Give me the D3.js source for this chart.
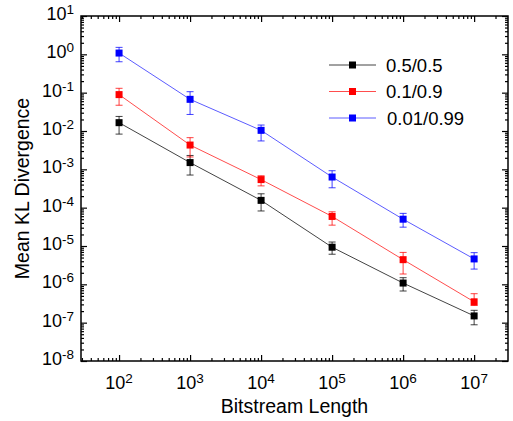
<!DOCTYPE html>
<html>
<head>
<meta charset="utf-8">
<script src="https://cdn.jsdelivr.net/npm/d3@7"></script>
<style>
  body { margin: 0; background: #fff; }
  svg text { font-family: Arial, "Liberation Sans", sans-serif; fill: #000; }
</style>
</head>
<body>
<div id="chart"></div>
<script>
// bitstream lengths (x values)
const lengths = [1e2, 1e3, 1e4, 1e5, 1e6, 1e7];

const seriesNames = ['0.5/0.5', '0.1/0.9', '0.01/0.99'];

// mean KL divergence, lower and upper error bounds
const meanA = [0.0165, 0.0015, 1.55e-4, 9.3e-6, 1.08e-6, 1.5e-7];
const lowA  = [0.0083, 7.1e-4, 8.2e-5, 6.1e-6, 6.7e-7, 8.8e-8];
const highA = [0.024, 0.0023, 2.3e-4, 1.27e-5, 1.49e-6, 2.1e-7];

const meanB = [0.089, 0.0043, 5.4e-4, 5.9e-5, 4.4e-6, 3.5e-7];
const lowB  = [0.047, 0.0021, 3.7e-4, 3.5e-5, 1.86e-6, 2.8e-7];
const highB = [0.13, 0.0067, 6.8e-4, 7.8e-5, 6.8e-6, 5.7e-7];

const meanC = [1.08, 0.067, 0.0104, 6.3e-4, 5.0e-5, 4.6e-6];
const lowC  = [0.64, 0.027, 0.0055, 3.3e-4, 3.1e-5, 2.5e-6];
const highC = [1.52, 0.106, 0.0143, 9.2e-4, 7.1e-5, 6.7e-6];

const xMajorExp = [2, 3, 4, 5, 6, 7];
const yMajorExp = [-8, -7, -6, -5, -4, -3, -2, -1, 0, 1];

const markColors = ['#000000', '#ff0000', '#0000ff'];
const lineColors = ['#444444', '#ff4d4d', '#5c5cff'];

const series = seriesNames.map((name, i) => ({
  name: name,
  mark: markColors[i],
  line: lineColors[i],
  values: lengths.map((x, j) => ({
    x: x,
    y: [meanA, meanB, meanC][i][j],
    lo: [lowA, lowB, lowC][i][j],
    hi: [highA, highB, highC][i][j]
  }))
}));

const width = 513, height = 421;
const margin = {top: 16, right: 5, bottom: 60, left: 81};

const svg = d3.select('#chart').append('svg')
    .attr('width', width)
    .attr('height', height);

const x = d3.scaleLog()
    .domain([Math.pow(10, 1.464), Math.pow(10, 7.477)])
    .range([margin.left, width - margin.right]);

const y = d3.scaleLog()
    .domain([1e-8, 10])
    .range([height - margin.bottom, margin.top]);

// minor ticks at 2..9 x 10^n inside the domain
function minorTicks(scale) {
  const [lo, hi] = scale.domain();
  const out = [];
  for (let e = Math.floor(Math.log10(lo)); e <= Math.ceil(Math.log10(hi)); e++) {
    for (let m = 2; m <= 9; m++) {
      const v = m * Math.pow(10, e);
      if (v > lo && v < hi) out.push(v);
    }
  }
  return out;
}

const xMajors = xMajorExp.map(e => Math.pow(10, e));
const yMajors = yMajorExp.map(e => Math.pow(10, e));
const xMinors = minorTicks(x);
const yMinors = minorTicks(y);

const bottom = height - margin.bottom;
const right = width - margin.right;

function styleAxis(g) {
  g.select('.domain').remove();
  g.selectAll('.tick line').attr('stroke', '#000').attr('stroke-width', 1.2);
}

// ticks (inward) on all four sides
[[xMajors, 6], [xMinors, 3]].forEach(([vals, len]) => {
  svg.append('g').attr('transform', `translate(0,${bottom})`)
      .call(d3.axisBottom(x).tickValues(vals).tickSize(-len).tickFormat(''))
      .call(styleAxis);
  svg.append('g').attr('transform', `translate(0,${margin.top})`)
      .call(d3.axisTop(x).tickValues(vals).tickSize(-len).tickFormat(''))
      .call(styleAxis);
});
[[yMajors, 6], [yMinors, 3]].forEach(([vals, len]) => {
  svg.append('g').attr('transform', `translate(${margin.left},0)`)
      .call(d3.axisLeft(y).tickValues(vals).tickSize(-len).tickFormat(''))
      .call(styleAxis);
  svg.append('g').attr('transform', `translate(${right},0)`)
      .call(d3.axisRight(y).tickValues(vals).tickSize(-len).tickFormat(''))
      .call(styleAxis);
});

// frame
svg.append('rect')
    .attr('x', margin.left)
    .attr('y', margin.top)
    .attr('width', right - margin.left)
    .attr('height', bottom - margin.top)
    .attr('fill', 'none')
    .attr('stroke', '#000')
    .attr('stroke-width', 1.5);

// tick labels as 10 with superscript
function powerLabel(sel, exp) {
  sel.append('tspan').text('10');
  sel.append('tspan')
      .attr('dy', -6)
      .style('font-size', '13.5px')
      .text(exp);
}

xMajorExp.forEach(e => {
  svg.append('text')
      .attr('x', x(Math.pow(10, e)))
      .attr('y', bottom + 28)
      .attr('text-anchor', 'middle')
      .style('font-size', '18px')
      .call(powerLabel, e);
});

yMajorExp.forEach(e => {
  svg.append('text')
      .attr('x', margin.left - 7)
      .attr('y', y(Math.pow(10, e)) + 4)
      .attr('text-anchor', 'end')
      .style('font-size', '18px')
      .call(powerLabel, e);
});

// axis titles
svg.append('text')
    .attr('x', (margin.left + right) / 2)
    .attr('y', 413)
    .attr('text-anchor', 'middle')
    .style('font-size', '19.5px')
    .text('Bitstream Length');

svg.append('text')
    .attr('transform', `translate(29,${(margin.top + bottom) / 2}) rotate(-90)`)
    .attr('text-anchor', 'middle')
    .style('font-size', '19.5px')
    .text('Mean KL Divergence');

// lines, error bars, markers
const line = d3.line().x(d => x(d.x)).y(d => y(d.y));
const markSize = 7, capW = 7;

series.forEach(s => {
  svg.append('path')
      .datum(s.values)
      .attr('d', line)
      .attr('fill', 'none')
      .attr('stroke', s.line)
      .attr('stroke-width', 1);

  const g = svg.append('g');
  const bars = g.selectAll('.err')
      .data(s.values)
    .join('g')
      .attr('class', 'err')
      .attr('stroke', s.mark)
      .attr('stroke-opacity', 0.75)
      .attr('stroke-width', 1);
  bars.append('line')
      .attr('x1', d => x(d.x)).attr('x2', d => x(d.x))
      .attr('y1', d => y(d.lo)).attr('y2', d => y(d.hi));
  bars.append('line')
      .attr('x1', d => x(d.x) - capW / 2).attr('x2', d => x(d.x) + capW / 2)
      .attr('y1', d => y(d.lo)).attr('y2', d => y(d.lo));
  bars.append('line')
      .attr('x1', d => x(d.x) - capW / 2).attr('x2', d => x(d.x) + capW / 2)
      .attr('y1', d => y(d.hi)).attr('y2', d => y(d.hi));

  g.selectAll('.mark')
      .data(s.values)
    .join('rect')
      .attr('class', 'mark')
      .attr('x', d => x(d.x) - markSize / 2)
      .attr('y', d => y(d.y) - markSize / 2)
      .attr('width', markSize)
      .attr('height', markSize)
      .attr('fill', s.mark);
});

// legend
const legend = svg.append('g').attr('transform', 'translate(329,65)');
const legendRow = 26.5;
series.forEach((s, i) => {
  const row = legend.append('g').attr('transform', `translate(0,${i * legendRow})`);
  row.append('line')
      .attr('x1', 0).attr('x2', 47)
      .attr('stroke', s.line)
      .attr('stroke-width', 1);
  row.append('rect')
      .attr('x', 23.5 - markSize / 2)
      .attr('y', -markSize / 2)
      .attr('width', markSize)
      .attr('height', markSize)
      .attr('fill', s.mark);
  row.append('text')
      .attr('x', 57 + (i === 2 ? 1 : 0))
      .attr('y', 6.5)
      .style('font-size', '18.5px')
      .text(s.name);
});
</script>
</body>
</html>
